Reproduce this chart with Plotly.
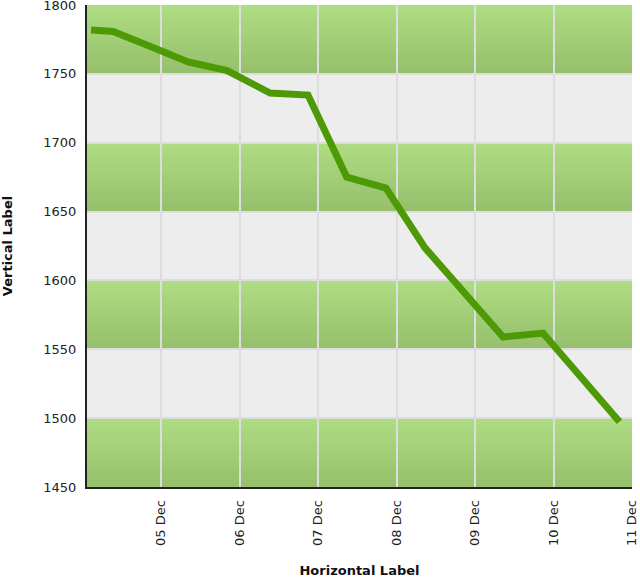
import plotly.graph_objects as go

# ---- data ----
times = [
    "2023-12-04 02:35", "2023-12-04 09:20", "2023-12-04 20:45", "2023-12-05 08:15",
    "2023-12-05 20:10", "2023-12-06 09:20", "2023-12-06 20:55", "2023-12-07 08:45",
    "2023-12-07 20:45", "2023-12-08 08:45", "2023-12-08 20:40", "2023-12-09 08:35",
    "2023-12-09 20:45", "2023-12-10 08:45", "2023-12-10 20:10",
]
values = [1781.8, 1780.8, 1769.9, 1758.6, 1752.4, 1736.1, 1734.6, 1675.1,
          1667.1, 1623.5, 1591.2, 1558.9, 1561.8, 1529.3, 1497.4]
y_ticks = [1450, 1500, 1550, 1600, 1650, 1700, 1750, 1800]
x_title = "Horizontal Label"
y_title = "Vertical Label"

# ---- styles ----
font_family = "DejaVu Sans"
line_color = "#4e9a06"
grid_color = "#dddddd"
gray_band = "#ededed"
green_top = (174, 220, 130)
green_bot = (150, 192, 108)

fig = go.Figure()
fig.add_trace(go.Scatter(
    x=times, y=values, mode="lines",
    line=dict(color=line_color, width=7),
    showlegend=False, hoverinfo="skip",
))

# gradient green bands (1450-1500, 1550-1600, 1650-1700, 1750-1800)
# overlapping rectangles (each reaches the band bottom) to avoid seams
shapes = []
steps = 20
for lo in y_ticks[:-1][::2]:
    hi = lo + 50
    for i in range(steps):
        t = i / (steps - 1)
        r = round(green_top[0] + (green_bot[0] - green_top[0]) * t)
        g = round(green_top[1] + (green_bot[1] - green_top[1]) * t)
        b = round(green_top[2] + (green_bot[2] - green_top[2]) * t)
        y1 = hi - (hi - lo) * i / steps
        shapes.append(dict(
            type="rect", xref="paper", yref="y", x0=0, x1=1, y0=lo, y1=y1,
            fillcolor=f"rgb({r},{g},{b})", line=dict(width=0), layer="below",
        ))

fig.update_layout(
    width=640, height=578,
    margin=dict(l=87, r=8, t=5, b=91),
    paper_bgcolor="white",
    plot_bgcolor=gray_band,
    font=dict(family=font_family, size=13, color="#222222"),
    shapes=shapes,
    xaxis=dict(
        type="date",
        range=["2023-12-04 01:20", "2023-12-11 00:00"],
        tickformat="%d %b",
        dtick=86400000,
        tick0="2023-12-05",
        tickangle=-90,
        ticklabeloverflow="allow",
        showgrid=True, gridcolor=grid_color, gridwidth=1.5,
        showline=True, linecolor="#222222", linewidth=2,
        ticks="outside", ticklen=6, tickcolor="rgba(0,0,0,0)",
        zeroline=False,
        title=dict(text=x_title, font=dict(size=13, color="#111111", weight="bold"), standoff=31),
        automargin=False,
    ),
    yaxis=dict(
        range=[1450, 1800],
        tickvals=y_ticks,
        ticklabeloverflow="allow",
        showgrid=True, gridcolor=grid_color, gridwidth=1.5,
        showline=True, linecolor="#222222", linewidth=2,
        ticks="outside", ticklen=6, tickcolor="rgba(0,0,0,0)",
        zeroline=False,
        title=dict(text=y_title, font=dict(size=13, color="#111111", weight="bold"), standoff=28),
        automargin=False,
    ),
)

fig.write_html("out.html", config={"displayModeBar": False},
               post_script="document.body.style.margin='0px';")
